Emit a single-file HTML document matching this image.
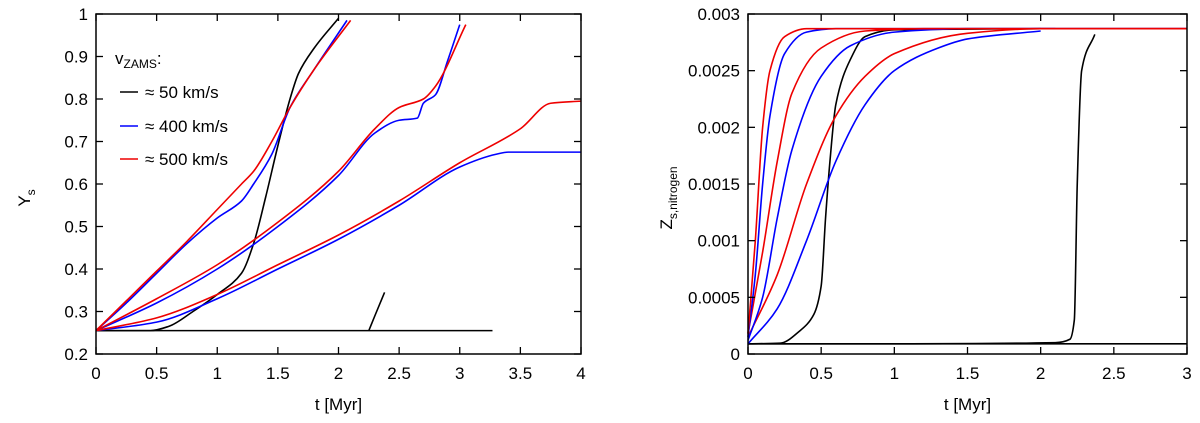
<!DOCTYPE html>
<html><head><meta charset="utf-8"><style>
body{margin:0;background:#fff}
svg text{font-family:"Liberation Sans",sans-serif;fill:#000}
</style></head><body>
<svg id="c" width="1200" height="418" xmlns="http://www.w3.org/2000/svg"></svg>
<script>
// Left panel data: [t, Y_s]
const leftBlack1=[[0,0.255],[0.45,0.255],[0.6,0.265],[0.8,0.3],[1.0,0.34],[1.2,0.39],[1.3,0.46],[1.4,0.57],[1.5,0.69],[1.6,0.8],[1.67,0.86],[1.8,0.92],[2.0,0.99]];
const leftBlack2=[[0,0.255],[3.27,0.255]];
const leftBlack3=[[2.25,0.255],[2.3,0.29],[2.38,0.345]];
const leftBlueA=[[0,0.255],[0.25,0.32],[0.5,0.39],[0.75,0.46],[1.0,0.52],[1.2,0.56],[1.3,0.6],[1.45,0.67],[1.6,0.78],[1.8,0.87],[2.07,0.985]];
const leftRedA=[[0,0.255],[0.25,0.325],[0.5,0.395],[0.75,0.465],[1.0,0.54],[1.2,0.6],[1.3,0.63],[1.45,0.7],[1.6,0.78],[1.8,0.87],[2.1,0.985]];
const leftBlueB=[[0,0.255],[0.5,0.32],[1.0,0.4],[1.5,0.5],[2.0,0.62],[2.3,0.72],[2.5,0.75],[2.65,0.755],[2.7,0.79],[2.8,0.81],[2.9,0.89],[3.0,0.975]];
const leftRedB=[[0,0.255],[0.5,0.33],[1.0,0.41],[1.5,0.51],[2.0,0.63],[2.3,0.73],[2.5,0.78],[2.7,0.8],[2.8,0.83],[3.05,0.975]];
const leftBlueC=[[0,0.255],[0.5,0.275],[1.0,0.33],[1.5,0.4],[2.0,0.47],[2.5,0.55],[3.0,0.64],[3.3,0.67],[3.4,0.675],[4,0.675]];
const leftRedC=[[0,0.255],[0.5,0.285],[1.0,0.34],[1.5,0.41],[2.0,0.48],[2.5,0.56],[3.0,0.65],[3.5,0.73],[3.75,0.79],[4,0.795]];
const leftXTicks=["0","0.5","1","1.5","2","2.5","3","3.5","4"];
const leftYTicks=["0.2","0.3","0.4","0.5","0.6","0.7","0.8","0.9","1"];
// Right panel data: [t, Z_s,N in 1e-4]
const rightBlack1=[[0,0.9],[0.22,0.95],[0.35,2],[0.45,3.5],[0.5,6],[0.53,12],[0.56,17],[0.6,22],[0.7,26],[0.8,28],[1,28.6],[2,28.7]];
const rightBlack2=[[0,0.9],[1,0.9],[2.1,1.0],[2.2,1.3],[2.23,3],[2.25,15],[2.28,25],[2.37,28.2]];
const rightBlack3=[[0,0.9],[3,0.9]];
const rightRed1=[[0,1.8],[0.05,10],[0.1,20],[0.15,25],[0.25,28],[0.4,28.7],[3,28.7]];
const rightBlue1=[[0,1.5],[0.05,7],[0.1,15],[0.15,21],[0.25,26.5],[0.4,28.4],[0.6,28.7],[3,28.7]];
const rightRed2=[[0,1.8],[0.1,9],[0.2,17],[0.3,23],[0.5,27],[0.8,28.5],[1.2,28.7],[3,28.7]];
const rightBlue2=[[0,1.2],[0.1,5],[0.2,12],[0.3,18],[0.5,24.5],[0.7,27.2],[1,28.4],[1.5,28.7],[2.1,28.7]];
const rightRed3=[[0,1.5],[0.2,7],[0.4,15],[0.6,21],[0.8,24.5],[1,26.5],[1.5,28.3],[2,28.7],[3,28.7]];
const rightBlue3=[[0,0.9],[0.2,4],[0.4,10],[0.6,17],[0.8,22],[1,25],[1.3,27],[1.5,27.8],[2,28.5]];
const rightXTicks=["0","0.5","1","1.5","2","2.5","3"];
const rightYTicks=["0","0.0005","0.001","0.0015","0.002","0.0025","0.003"];

const svg=document.getElementById('c');const NS="http://www.w3.org/2000/svg";
function mk(tag,attrs,parent){const e=document.createElementNS(NS,tag);for(const k in attrs)e.setAttribute(k,attrs[k]);(parent||svg).appendChild(e);return e;}
function panel(name,x0,x1,y0,y1,xmin,xmax,ymin,ymax){
  const sx=v=>x0+(v-xmin)/(xmax-xmin)*(x1-x0);
  const sy=v=>y1-(v-ymin)/(ymax-ymin)*(y1-y0);
  return {sx,sy,x0,x1,y0,y1,name};
}
function smooth(pts,p){
  const P=pts.map(d=>[p.sx(d[0]),p.sy(d[1])]);
  const n=P.length;
  if(n<3){return "M"+P.map(q=>q[0]+","+q[1]).join(" L");}
  const dx=[],m=[];
  for(let i=0;i<n-1;i++){dx[i]=P[i+1][0]-P[i][0];m[i]=(P[i+1][1]-P[i][1])/dx[i];}
  const t=[m[0]];
  for(let i=1;i<n-1;i++){
    if(m[i-1]*m[i]<=0)t[i]=0;
    else{const w1=2*dx[i]+dx[i-1],w2=dx[i]+2*dx[i-1];t[i]=(w1+w2)/(w1/m[i-1]+w2/m[i]);}
  }
  t[n-1]=m[n-2];
  let s="M"+P[0][0]+","+P[0][1];
  for(let i=0;i<n-1;i++){
    const h=dx[i]/3;
    s+=` C${P[i][0]+h},${P[i][1]+t[i]*h} ${P[i+1][0]-h},${P[i+1][1]-t[i+1]*h} ${P[i+1][0]},${P[i+1][1]}`;
  }
  return s;
}
function line(pts,p,color,name){
  const e=mk('path',{d:smooth(pts,p),fill:'none',stroke:color,'stroke-width':1.6});
  
  
}
function axes(p,xt,yt,xvals,yvals){
  const g=mk('g',{});
  
  
  xt.forEach((t,i)=>{const x=p.sx(xvals[i]);
    mk('line',{x1:x,x2:x,y1:p.y1,y2:p.y1-7,stroke:'#000','stroke-width':1.3},g);
    mk('line',{x1:x,x2:x,y1:p.y0,y2:p.y0+7,stroke:'#000','stroke-width':1.3},g);
    const tx=mk('text',{x:x,y:p.y1+25,'text-anchor':'middle','font-size':17},g);tx.textContent=t;
    
    });
  yt.forEach((t,i)=>{const y=p.sy(yvals[i]);
    mk('line',{x1:p.x0,x2:p.x0+7,y1:y,y2:y,stroke:'#000','stroke-width':1.3},g);
    mk('line',{x1:p.x1,x2:p.x1-7,y1:y,y2:y,stroke:'#000','stroke-width':1.3},g);
    const tx=mk('text',{x:p.x0-8,y:y+6,'text-anchor':'end','font-size':17},g);tx.textContent=t;
    
    });
  mk('rect',{x:p.x0,y:p.y0,width:p.x1-p.x0,height:p.y1-p.y0,fill:'none',stroke:'#000','stroke-width':1.5},g);
  const xl=mk('text',{x:(p.x0+p.x1)/2,y:p.y1+56,'text-anchor':'middle','font-size':17},g);xl.textContent='t [Myr]';
  
  
}
const L=panel('left',96,581,14,354,0,4,0.2,1);
[[leftBlack1,'#000','black-50-a'],[leftBlack2,'#000','black-50-flat'],[leftBlack3,'#000','black-50-b'],
 [leftBlueA,'#00f','blue-400-a'],[leftRedA,'#e00','red-500-a'],[leftBlueB,'#00f','blue-400-b'],[leftRedB,'#e00','red-500-b'],
 [leftBlueC,'#00f','blue-400-c'],[leftRedC,'#e00','red-500-c']].forEach(s=>line(s[0],L,s[1],'left-'+s[2]));
axes(L,leftXTicks,leftYTicks,leftXTicks.map(Number),leftYTicks.map(Number));
const R=panel('right',748,1187,14,354,0,3,0,30);
[[rightBlack3,'#000','black-flat'],[rightBlack1,'#000','black-a'],[rightBlack2,'#000','black-b'],
 [rightBlue3,'#00f','blue-c'],[rightRed3,'#e00','red-c'],[rightBlue2,'#00f','blue-b'],[rightRed2,'#e00','red-b'],
 [rightBlue1,'#00f','blue-a'],[rightRed1,'#e00','red-a']].forEach(s=>line(s[0],R,s[1],'right-'+s[2]));
axes(R,rightXTicks,rightYTicks,rightXTicks.map(Number),rightYTicks.map(v=>Number(v)*1e4));
</script>
<svg width="1200" height="418" style="position:absolute;left:0;top:0" xmlns="http://www.w3.org/2000/svg">
<g><text transform="translate(30,198) rotate(-90)" font-size="17" text-anchor="middle">Y<tspan font-size="12" dy="5">s</tspan></text></g>
<g><text transform="translate(672,198) rotate(-90)" font-size="17" text-anchor="middle">Z<tspan font-size="12" dy="5">s,nitrogen</tspan></text></g>
<g>
<text x="115" y="64" font-size="17">v<tspan font-size="12" dy="4">ZAMS</tspan><tspan dy="-4">:</tspan></text>
<line x1="120" y1="92" x2="138" y2="92" stroke="#000" stroke-width="1.6"/><text x="145" y="98" font-size="17">≈ 50 km/s</text>
<line x1="120" y1="126" x2="138" y2="126" stroke="#00f" stroke-width="1.6"/><text x="145" y="132" font-size="17">≈ 400 km/s</text>
<line x1="120" y1="159" x2="138" y2="159" stroke="#e00" stroke-width="1.6"/><text x="145" y="165" font-size="17">≈ 500 km/s</text>
</g></svg>
</body></html>
